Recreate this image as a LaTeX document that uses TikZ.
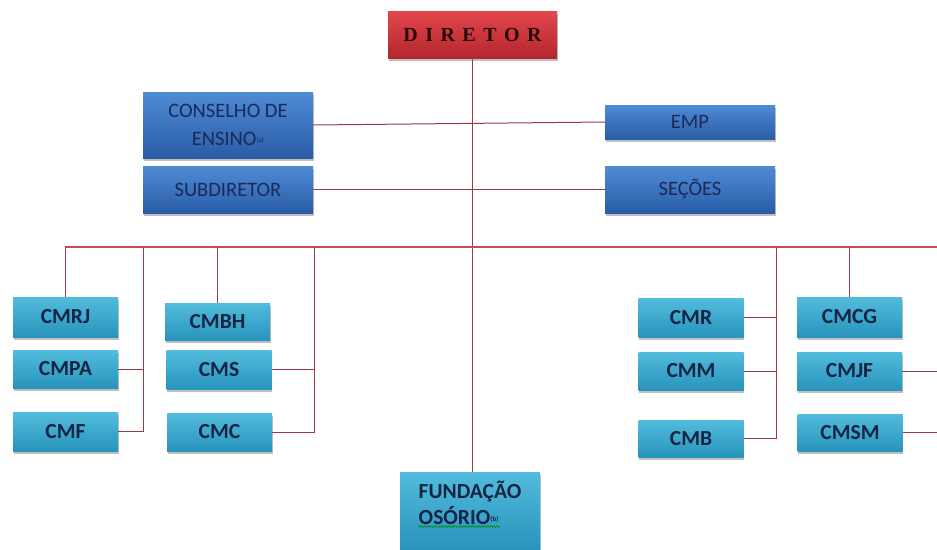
\documentclass[tikz,border=0pt]{standalone}
\usepackage{fontspec}
\setmainfont{Carlito}
\newfontfamily\dirfont{Liberation Serif}
\usetikzlibrary{shadows,decorations.pathmorphing,calc}
\definecolor{blueT}{HTML}{4F8BD6}
\definecolor{blueB}{HTML}{2A5CA6}
\definecolor{cyanT}{HTML}{52BCDC}
\definecolor{cyanB}{HTML}{2894BC}
\definecolor{redT}{HTML}{E2474C}
\definecolor{redB}{HTML}{B4262E}
\definecolor{navyA}{HTML}{1A2A58}
\definecolor{navyB}{HTML}{142444}
\definecolor{dirText}{HTML}{260808}
\definecolor{linkc}{HTML}{9A3C44}
\definecolor{busc}{HTML}{C2505A}
\begin{document}
\begin{tikzpicture}[x=1pt,y=-1pt,
  box/.style={rectangle, inner sep=0pt, align=center,
    drop shadow={shadow xshift=0.5pt, shadow yshift=-3pt, opacity=0.35, fill=black!70}},
  bluebox/.style={box, top color=blueT, bottom color=blueB, text=navyA,
    font=\fontsize{20.5}{28}\selectfont, minimum width=170pt},
  cmbox/.style={box, top color=cyanT, bottom color=cyanB, text=navyB,
    font=\bfseries\fontsize{21.5}{26}\selectfont, minimum width=105pt},
  redbox/.style={box, top color=redT, bottom color=redB, text=dirText,
    font=\dirfont\bfseries\fontsize{20}{24}\selectfont},
  link/.style={draw=linkc, line width=1pt},
  buslink/.style={draw=busc, line width=1.1pt},
  squiggle/.style={draw=green!55!black, line width=0.6pt,
    decorate, decoration={snake, amplitude=0.9pt, segment length=3pt}}
]
\useasboundingbox (0,0) rectangle (937,549);
\fill[white] (0,0) rectangle (937,549);

% top level
\node[redbox, minimum width=169pt, minimum height=47pt] (DIR) at (472.5,34.5)
  {D\hspace{7.5pt}I\hspace{7.5pt}R\hspace{7.5pt}E\hspace{7.5pt}T\hspace{7.5pt}O\hspace{7.5pt}R};

\node[bluebox, minimum height=66pt] (CONS) at (228,125)
  {CONSELHO DE\\ENSINO\raisebox{3pt}{\fontsize{7}{7}\selectfont(a)}};
\node[bluebox, minimum height=47pt] (SUB) at (228,189.5) {SUBDIRETOR};
\node[bluebox, minimum height=34pt] (EMP) at (690,122) {EMP};
\node[bluebox, minimum height=47pt] (SEC) at (690,189.5) {SEÇÕES};

% left group
\node[cmbox, minimum height=40pt] (CMRJ) at (65.5,317) {CMRJ};
\node[cmbox, minimum height=38pt] (CMPA) at (65.5,369) {CMPA};
\node[cmbox, minimum height=39pt] (CMF)  at (65.5,431.5) {CMF};
\node[cmbox, minimum height=37pt] (CMBH) at (217.5,321.5) {CMBH};
\node[cmbox, minimum height=39pt] (CMS)  at (219,369.5) {CMS};
\node[cmbox, minimum height=38pt] (CMC)  at (219.5,432) {CMC};

% right group
\node[cmbox, minimum height=39pt] (CMR)  at (691,317.5) {CMR};
\node[cmbox, minimum height=38pt] (CMM)  at (691,371) {CMM};
\node[cmbox, minimum height=37pt] (CMB)  at (691,438.5) {CMB};
\node[cmbox, minimum height=40pt] (CMCG) at (849.5,317) {CMCG};
\node[cmbox, minimum height=38pt] (CMJF) at (849.5,371) {CMJF};
\node[cmbox, minimum height=37pt] (CMSM) at (850,432.5) {CMSM};

% bottom
\node[cmbox, minimum width=140pt, minimum height=77pt, align=left, text depth=15pt] (FUND) at (470,510.5)
  {FUNDAÇÃO\\OSÓRIO\raisebox{3pt}{\fontsize{7}{7}\selectfont(b)}};
\draw[squiggle] ($(FUND.center)+(-52,16)$) -- ($(FUND.center)+(30,16)$);

% bus coordinates
\coordinate (busL) at (65,247);
\coordinate (busR) at (937,247);
\coordinate (vA) at (143,247);
\coordinate (vB) at (314,247);
\coordinate (vC) at (776,247);
\coordinate (edgeR) at (937,0);

% connectors
\draw[link] (DIR.south) -- (DIR.south |- FUND.north);
\draw[link] (CONS.east) -- (EMP.west);
\draw[link] (SUB.east) -- (SEC.west);
\draw[buslink] (busL) -- (busR);

\draw[link] (CMRJ.north) -- (CMRJ.north |- busL);
\draw[link] (CMPA.east) -- (CMPA.east -| vA);
\draw[link] (CMF.east) -- (CMF.east -| vA) -- (vA);
\draw[link] (CMBH.north) -- (CMBH.north |- busL);
\draw[link] (CMS.east) -- (CMS.east -| vB);
\draw[link] (CMC.east) -- (CMC.east -| vB) -- (vB);

\draw[link] (CMR.east) -- (CMR.east -| vC);
\draw[link] (CMM.east) -- (CMM.east -| vC);
\draw[link] (CMB.east) -- (CMB.east -| vC) -- (vC);
\draw[link] (CMCG.north) -- (CMCG.north |- busR);
\draw[link] (CMJF.east) -- (CMJF.east -| edgeR);
\draw[link] (CMSM.east) -- (CMSM.east -| edgeR);
\end{tikzpicture}
\end{document}
